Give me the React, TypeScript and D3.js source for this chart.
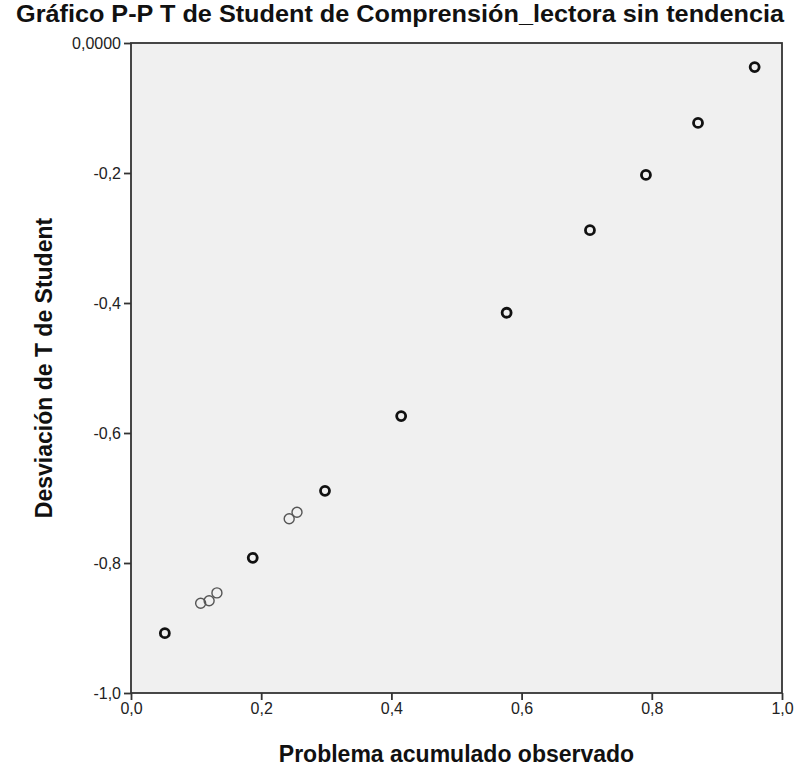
import React, { useEffect, useRef } from 'react';
import * as d3 from 'd3';

// Gráfico P-P sin tendencia: observed cumulative proportion vs deviation
const observed = [0.052, 0.107, 0.12, 0.132, 0.187, 0.243, 0.255, 0.298, 0.415, 0.577, 0.705, 0.791, 0.871, 0.958];
const deviation = [-0.908, -0.862, -0.858, -0.846, -0.792, -0.732, -0.722, -0.689, -0.574, -0.415, -0.288, -0.203, -0.123, -0.037];
const faint = [false, true, true, true, false, true, true, false, false, false, false, false, false, false];
const xTicks = [0, 0.2, 0.4, 0.6, 0.8, 1.0];
const yTicks = [-1.0, -0.8, -0.6, -0.4, -0.2, 0];
const yTickLabels = ['-1,0', '-0,8', '-0,6', '-0,4', '-0,2', '0,0000'];

const width = 798;
const height = 769;
const margin = { top: 43, right: 16, bottom: 76, left: 131 };
const font = "'Liberation Sans', Arial, sans-serif";

export default function App() {
	const ref = useRef<SVGSVGElement>(null);
	useEffect(() => {
		document.body.style.margin = '0';
		const svg = d3.select(ref.current);
		svg.selectAll('*').remove();
		const innerW = width - margin.left - margin.right;
		const innerH = height - margin.top - margin.bottom;
		const x = d3.scaleLinear().domain([0, 1]).range([0, innerW]);
		const y = d3.scaleLinear().domain([-1, 0]).range([innerH, 0]);

		svg.append('rect').attr('width', width).attr('height', height).attr('fill', '#ffffff');

		const g = svg.append('g').attr('transform', `translate(${margin.left},${margin.top})`);
		g.append('rect')
			.attr('width', innerW)
			.attr('height', innerH)
			.attr('fill', '#f0f0f0')
			.attr('stroke', '#333')
			.attr('stroke-width', 1.8);

		const xAxis = d3.axisBottom(x).tickValues(xTicks).tickSizeOuter(0).tickSize(7)
			.tickFormat((d) => d3.format('.1f')(d as number).replace('.', ','));
		const yAxis = d3.axisLeft(y).tickValues(yTicks).tickSizeOuter(0).tickSize(7)
			.tickFormat((d, i) => yTickLabels[i]);

		const gx = g.append('g').attr('transform', `translate(0,${innerH})`).call(xAxis);
		const gy = g.append('g').call(yAxis);
		[gx, gy].forEach((ax) => {
			ax.select('.domain').remove();
			ax.selectAll('line').attr('stroke', '#333').attr('stroke-width', 1.8);
			ax.selectAll('text').attr('font-family', font).attr('font-size', 16).attr('fill', '#222');
		});

		g.selectAll('circle.pt')
			.data(observed)
			.enter()
			.append('circle')
			.attr('class', 'pt')
			.attr('cx', (d) => x(d))
			.attr('cy', (d, i) => y(deviation[i]))
			.attr('r', (d, i) => (faint[i] ? 5 : 4.5))
			.attr('fill', 'none')
			.attr('stroke', (d, i) => (faint[i] ? '#555' : '#111'))
			.attr('stroke-width', (d, i) => (faint[i] ? 1.4 : 2.8));

		svg.append('text')
			.attr('x', 400)
			.attr('y', 22)
			.attr('text-anchor', 'middle')
			.attr('font-family', font)
			.attr('font-weight', 'bold')
			.attr('font-size', 24)
			.attr('textLength', 768)
			.attr('lengthAdjust', 'spacingAndGlyphs')
			.attr('fill', '#111')
			.text('Gráfico P-P T de Student de Comprensión_lectora sin tendencia');

		svg.append('text')
			.attr('x', margin.left + innerW / 2)
			.attr('y', 762)
			.attr('text-anchor', 'middle')
			.attr('font-family', font)
			.attr('font-weight', 'bold')
			.attr('font-size', 23)
			.attr('fill', '#111')
			.text('Problema acumulado observado');

		svg.append('text')
			.attr('transform', `translate(52,${margin.top + innerH / 2}) rotate(-90)`)
			.attr('text-anchor', 'middle')
			.attr('font-family', font)
			.attr('font-weight', 'bold')
			.attr('font-size', 23)
			.attr('fill', '#111')
			.text('Desviación de T de Student');
	}, []);
	return <svg ref={ref} width={width} height={height} style={{ display: 'block' }} />;
}
